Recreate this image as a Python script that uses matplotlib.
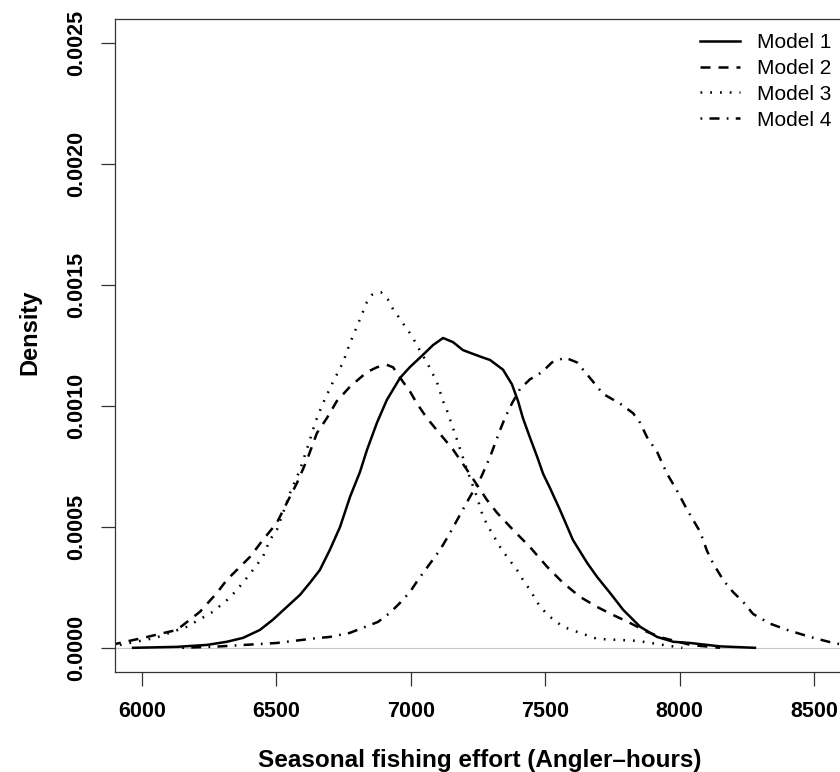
import matplotlib
matplotlib.use("Agg")
import matplotlib.pyplot as plt

plt.rcParams["font.family"] = ["Liberation Sans", "DejaVu Sans"]

# density curves (x = angler-hours, y = density)
m1_x = [5967, 6130, 6242, 6316, 6376, 6439, 6487, 6539, 6588, 6625, 6662, 6699,
        6737, 6774, 6811, 6837, 6874, 6911, 6960, 6997, 7045, 7083, 7120, 7157,
        7194, 7232, 7269, 7295, 7343, 7376, 7399, 7417, 7443, 7470, 7492, 7518,
        7555, 7603, 7656, 7693, 7741, 7790, 7853, 7916, 7976, 8039, 8150, 8280]
m1_y = [0.0, 0.000004, 0.000012, 0.000025, 0.000041, 0.000074, 0.000116, 0.000169,
        0.000219, 0.000269, 0.000322, 0.000405, 0.0005, 0.000624, 0.000727,
        0.000818, 0.00093, 0.001025, 0.001116, 0.001161, 0.001211, 0.001252,
        0.001281, 0.001264, 0.001231, 0.001215, 0.0012, 0.00119, 0.00115,
        0.00109, 0.00102, 0.00095, 0.00087, 0.00079, 0.00072, 0.00066, 0.00057,
        0.000446, 0.000351, 0.000293, 0.000227, 0.000157, 0.000087, 0.000045,
        0.000025, 0.00002, 0.000006, 0.0]

m2_x = [5885, 6004, 6130, 6216, 6279, 6316, 6365, 6402, 6450, 6502, 6539, 6577,
        6614, 6651, 6688, 6725, 6774, 6837, 6874, 6911, 6934, 6971, 6997, 7023,
        7060, 7097, 7157, 7209, 7283, 7321, 7380, 7443, 7507, 7566, 7629, 7693,
        7752, 7815, 7879, 7938, 8040, 8150]
m2_y = [0.000012, 0.000041, 0.000074, 0.000149, 0.000227, 0.000281, 0.000335,
        0.000376, 0.000446, 0.000517, 0.000599, 0.000682, 0.000777, 0.000888,
        0.00095, 0.00102, 0.00108, 0.00114, 0.00116, 0.00117, 0.00116, 0.0011,
        0.00106, 0.00101, 0.00095, 0.0009, 0.00082, 0.000736, 0.000612, 0.000558,
        0.000488, 0.000417, 0.000335, 0.000269, 0.000211, 0.000169, 0.000136,
        0.000103, 0.000066, 0.000041, 0.000012, 0.0]

m3_x = [5918, 6050, 6167, 6264, 6327, 6376, 6413, 6450, 6476, 6502, 6525, 6551,
        6588, 6625, 6644, 6673, 6711, 6748, 6774, 6804, 6837, 6856, 6889, 6915,
        6934, 6960, 6978, 7004, 7023, 7060, 7097, 7120, 7135, 7172, 7209, 7246,
        7269, 7295, 7332, 7358, 7395, 7417, 7443, 7481, 7518, 7566, 7629, 7693,
        7767, 7842, 7938, 8010]
m3_y = [0.000012, 0.000041, 0.000087, 0.000149, 0.000207, 0.000269, 0.000322,
        0.000376, 0.000446, 0.000488, 0.000558, 0.00064, 0.000736, 0.00086,
        0.00093, 0.00101, 0.0011, 0.00118, 0.00126, 0.00134, 0.00143, 0.00146,
        0.00147, 0.00144, 0.0014, 0.00136, 0.00133, 0.00129, 0.00125, 0.00118,
        0.0011, 0.00102, 0.00098, 0.00086, 0.000736, 0.000624, 0.000541,
        0.000488, 0.000417, 0.000376, 0.000322, 0.000281, 0.00024, 0.000169,
        0.000128, 0.000087, 0.000062, 0.000037, 0.000033, 0.000029, 0.000012, 0.0]

m4_x = [6150, 6278, 6502, 6650, 6699, 6774, 6822, 6878, 6923, 6960, 6997, 7027,
        7060, 7109, 7146, 7183, 7220, 7257, 7295, 7332, 7350, 7376, 7406, 7443,
        7488, 7525, 7574, 7618, 7656, 7693, 7715, 7778, 7827, 7853, 7879, 7916,
        7953, 7990, 8028, 8076, 8102, 8124, 8162, 8199, 8236, 8273, 8336, 8400,
        8485, 8571, 8680]
m4_y = [0.0, 0.000005, 0.00002, 0.00004, 0.000045, 0.000062, 0.000083, 0.000107,
        0.000145, 0.000186, 0.000231, 0.000281, 0.000331, 0.000405, 0.000475,
        0.00055, 0.000624, 0.000694, 0.00079, 0.0009, 0.00095, 0.00101, 0.00107,
        0.00111, 0.00114, 0.00118, 0.0012, 0.00118, 0.00113, 0.00108, 0.00105,
        0.00101, 0.00097, 0.00093, 0.00087, 0.00081, 0.00072, 0.00065, 0.00057,
        0.00048, 0.0004, 0.00035, 0.00028, 0.00023, 0.00019, 0.00014, 0.0001,
        0.000074, 0.000045, 0.00002, 0.0]

x_ticks = [6000, 6500, 7000, 7500, 8000, 8500]
y_ticks = [0.0, 0.0005, 0.0010, 0.0015, 0.0020, 0.0025]

fig = plt.figure(figsize=(8.4, 7.72), dpi=100)
ax = fig.add_axes([115 / 840, 1 - 672 / 772, 726 / 840, 653 / 772])

ax.axhline(0, color="#c8c8c8", lw=0.8, zorder=1)
lw = 1.8
ax.plot(m1_x, m1_y, color="black", lw=lw, ls="-", label="Model 1")
ax.plot(m2_x, m2_y, color="black", lw=lw, dashes=(4, 3.2), label="Model 2")
ax.plot(m3_x, m3_y, color="black", lw=lw, dashes=(0.7, 3.2), label="Model 3")
ax.plot(m4_x, m4_y, color="black", lw=lw, dashes=(0.7, 2.9, 4, 2.9), label="Model 4")

ax.set_xlim(5900, 8600)
ax.set_ylim(-0.0001, 0.0026)
ax.set_xticks(x_ticks)
ax.set_xticklabels([str(v) for v in x_ticks], fontweight="bold")
ax.set_yticks(y_ticks)
ax.set_yticklabels(["%.4f" % v for v in y_ticks], fontweight="bold",
                   rotation=90, va="center")
ax.tick_params(axis="both", direction="out", length=10, width=0.9,
               labelsize=15.5, color="#333333")
ax.tick_params(axis="x", pad=11)
ax.tick_params(axis="y", pad=10)
for s in ax.spines.values():
    s.set_linewidth(0.9)
    s.set_color("#333333")

fig.text(480 / 840, 1 - 761 / 772, "Seasonal fishing effort (Angler\u2013hours)",
         ha="center", va="center", fontsize=17.5, fontweight="bold")
fig.text(30 / 840, 1 - 332 / 772, "Density", rotation=90, ha="center",
         va="center", fontsize=17, fontweight="bold")

ax.legend(loc="upper left", bbox_to_anchor=(700 / 840, 1 - 33 / 772),
          bbox_transform=fig.transFigure, frameon=False, fontsize=15,
          handlelength=1.9, handletextpad=0.85, labelspacing=0.33,
          borderpad=0, borderaxespad=0)

plt.savefig("out.png", dpi=100)
